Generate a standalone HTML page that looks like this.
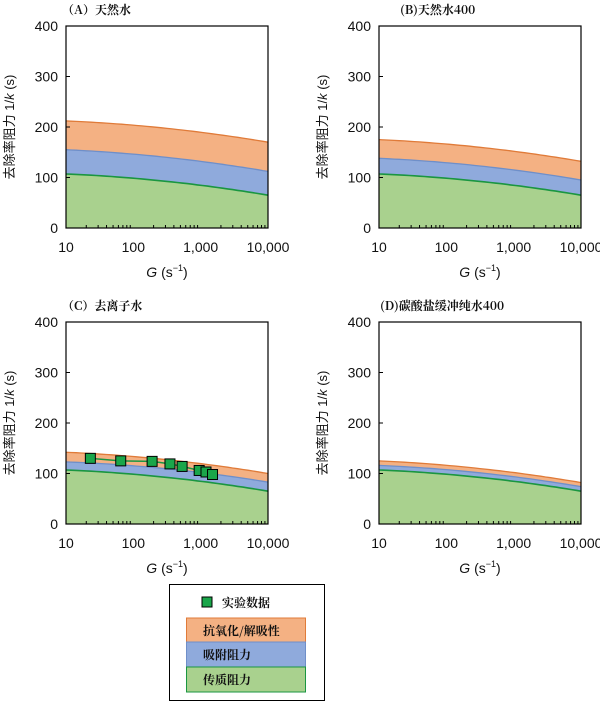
<!DOCTYPE html>
<html><head><meta charset="utf-8"><style>
body{margin:0;background:#fff;width:600px;height:701px;overflow:hidden}
svg{display:block}
text{font-family:"Liberation Sans","Noto Sans CJK SC",sans-serif;fill:#111}
.cj{font-family:"Noto Serif CJK SC","Noto Sans CJK SC",serif;font-weight:bold}
</style></head><body>
<svg id="s" width="600" height="701" viewBox="0 0 600 701"></svg>
<script>
const S=document.getElementById('s');let h='';
const panels=[
 {x:66,y:26,t:'（A）天然水',tx:62,b:[48,47],o:[105,105]},
 {x:379,y:26,t:'(B)天然水400',tx:400,b:[31,30],o:[68,67]},
 {x:66,y:322,t:'（C）去离子水',tx:62,b:[16,18],o:[35,35]},
 {x:379,y:322,t:'(D)碳酸盐缓冲纯水400',tx:380,b:[9,9],o:[18,17]}];
const W=202,H=202;
function g(t){return 107-42*(0.4*t+0.6*t*t);}
panels.forEach((p,i)=>{
 const X=t=>p.x+t*W, Y=v=>p.y+H-v/400*H;
 const N=40;
 function line(off){let a=[];for(let k=0;k<=N;k++){let t=k/N;let o=off?off[0]+(off[1]-off[0])*t:0;a.push([X(t),Y(g(t)+o)]);}return a;}
 const gr=line(null),bl=line(p.b),or=line(p.o);
 const pts=a=>a.map(q=>q[0].toFixed(1)+','+q[1].toFixed(1)).join(' ');
 const base=Y(0);
 h+=`<polygon points="${pts(or)} ${X(1)},${base} ${X(0)},${base}" fill="#f4b183"/>`;
 h+=`<polygon points="${pts(bl)} ${X(1)},${base} ${X(0)},${base}" fill="#8faadc"/>`;
 h+=`<polygon points="${pts(gr)} ${X(1)},${base} ${X(0)},${base}" fill="#a9d18e"/>`;
 h+=`<polyline points="${pts(or)}" fill="none" stroke="#e07b39" stroke-width="1.3"/>`;
 h+=`<polyline points="${pts(bl)}" fill="none" stroke="#6f8fc9" stroke-width="1.3"/>`;
 h+=`<polyline points="${pts(gr)}" fill="none" stroke="#1a9641" stroke-width="1.6"/>`;
 h+=`<rect x="${p.x}" y="${p.y}" width="${W}" height="${H}" fill="none" stroke="#000" stroke-width="1.2"/>`;
 [0,100,200,300,400].forEach(v=>{h+=`<line x1="${p.x}" x2="${p.x+4}" y1="${Y(v)}" y2="${Y(v)}" stroke="#000"/>`;
  h+=`<text x="${p.x-8}" y="${Y(v)+5}" font-size="14" text-anchor="end">${v}</text>`;});
 for(let d=0;d<3;d++)for(let m=2;m<=9;m++){let xx=X((d+Math.log10(m))/3);h+=`<line x1="${xx}" x2="${xx}" y1="${base}" y2="${base-3}" stroke="#000"/>`;}
 ['10','100','1,000','10,000'].forEach((l,k)=>{h+=`<text x="${X(k/3)}" y="${base+24}" font-size="14" text-anchor="middle">${l}</text>`;});
 h+=`<text x="${p.x+W/2}" y="${base+49}" font-size="14" text-anchor="middle"><tspan font-style="italic">G</tspan> (s<tspan font-size="9" dy="-6">−1</tspan><tspan dy="6">)</tspan></text>`;
 h+=`<text transform="translate(${p.x-52},${p.y+101}) rotate(-90)" font-size="13" text-anchor="middle">去除率阻力 1/<tspan font-style="italic">k</tspan> (s)</text>`;
 h+=`<text class="cj" x="${p.tx}" y="${p.y-12}" font-size="12">${p.t}</text>`;
 if(i==2){const d=[[23,130],[65,125],[190,124],[350,119],[530,114],[950,106],[1200,103],[1500,98]];
  const P=d.map(q=>[X(Math.log10(q[0]/10)/3),Y(q[1])]);
  h+=`<polyline points="${pts(P)}" fill="none" stroke="#1a9641" stroke-width="1.5"/>`;
  P.forEach(q=>{h+=`<rect x="${q[0]-5}" y="${q[1]-5}" width="10" height="10" fill="#1aa64a" stroke="#000" stroke-width="1"/>`;});}
});
h+=`<rect x="169.5" y="584.5" width="155" height="116" fill="#fff" stroke="#000"/>`;
h+=`<rect x="202" y="597" width="10" height="10" fill="#1aa64a" stroke="#000"/>`;
h+=`<text class="cj" x="222" y="607" font-size="12">实验数据</text>`;
h+=`<rect x="186.5" y="618" width="119" height="24" fill="#f4b183" stroke="#e07b39"/>`;
h+=`<rect x="186.5" y="642" width="119" height="25" fill="#8faadc" stroke="#6f8fc9"/>`;
h+=`<rect x="186.5" y="667" width="119" height="25" fill="#a9d18e" stroke="#1a9641"/>`;
h+=`<text class="cj" x="203" y="635" font-size="12">抗氧化/解吸性</text>`;
h+=`<text class="cj" x="203" y="659" font-size="12">吸附阻力</text>`;
h+=`<text class="cj" x="203" y="684" font-size="12">传质阻力</text>`;
S.innerHTML=h;
</script>
</body></html>
